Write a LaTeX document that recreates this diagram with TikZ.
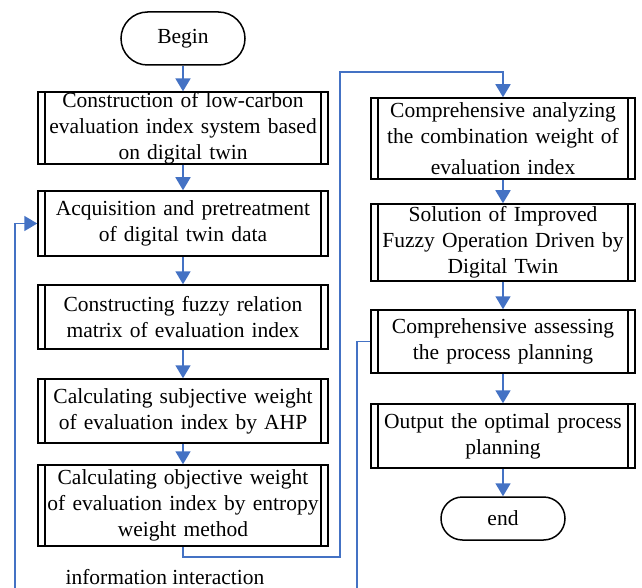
\documentclass[tikz,border=0pt]{standalone}
\usepackage{fontspec}
\setmainfont{Liberation Serif}
\usetikzlibrary{arrows.meta}
\definecolor{flowblue}{HTML}{4472C4}
\begin{document}
\begin{tikzpicture}[x=1pt,y=-1pt,
  every node/.style={font=\fontsize{21.5}{26}\selectfont},
  procbox/.style={draw, line width=1.5pt, inner sep=0pt, align=center,
    path picture={
      \draw[line width=1.5pt] ([xshift=7pt]path picture bounding box.north west) -- ([xshift=7pt]path picture bounding box.south west);
      \draw[line width=1.5pt] ([xshift=-7pt]path picture bounding box.north east) -- ([xshift=-7pt]path picture bounding box.south east);
    }},
  leftbox/.style={procbox, minimum width=290pt, text width=280pt},
  rightbox/.style={procbox, minimum width=264pt, text width=254pt},
  terminal/.style={draw, line width=1.5pt, minimum width=124pt, inner sep=0pt, align=center},
  flow/.style={flowblue, line width=1.8pt, -{Triangle[width=15pt,length=13pt]}},
]
\useasboundingbox (0,0) rectangle (642,588);
\clip (0,0) rectangle (642,588);

% left column
\node[terminal, minimum height=53pt, rounded corners=26.5pt] (begin) at (183,38.5) {Begin};
\node[leftbox, minimum height=70pt] (b1) at (183,128) {\raisebox{-3pt}{\parbox{280pt}{\centering Construction of low-carbon\\evaluation index system based\\on digital twin}}};
\node[leftbox, minimum height=65pt] (b2) at (183,223.5) {Acquisition and pretreatment\\of digital twin data};
\node[leftbox, minimum height=64pt] (b3) at (183,317) {Constructing fuzzy relation\\matrix of evaluation index};
\node[leftbox, minimum height=64pt] (b4) at (183,411) {Calculating subjective weight\\of evaluation index by AHP};
\node[leftbox, minimum height=81pt] (b5) at (183,505.5) {Calculating objective weight\\of evaluation index by entropy\\weight method};

% right column
\node[rightbox, minimum height=81pt] (r1) at (503,138.5) {Comprehensive analyzing\\the combination weight of\\[5pt]evaluation index};
\node[rightbox, minimum height=77pt] (r2) at (503,242.5) {Solution of Improved\\Fuzzy Operation Driven by\\Digital Twin};
\node[rightbox, minimum height=63pt] (r3) at (503,341.5) {Comprehensive assessing\\the process planning};
\node[rightbox, minimum height=64pt] (r4) at (503,436) {Output the optimal process\\planning};
\node[terminal, minimum height=43pt, rounded corners=21.5pt] (end) at (503,518.5) {end};

\node[anchor=base] (info) at (165,584) {information interaction};

% connectors
\draw[flow] (begin) -- (b1);
\draw[flow] (b1) -- (b2);
\draw[flow] (b2) -- (b3);
\draw[flow] (b3) -- (b4);
\draw[flow] (b4) -- (b5);
\draw[flow] (b5.south) -- (183,557) -- (340,557) -- (340,72) -- (r1.north |- 0,72) -- (r1.north);
\draw[flow] (r1) -- (r2);
\draw[flow] (r2) -- (r3);
\draw[flow] (r3) -- (r4);
\draw[flow] (r4) -- (end);
\draw[flow] (r3.west) -- (357,341.5) -- (357,600) -- (15,600) -- (15,223.5) -- (b2.west);
\end{tikzpicture}
\end{document}
